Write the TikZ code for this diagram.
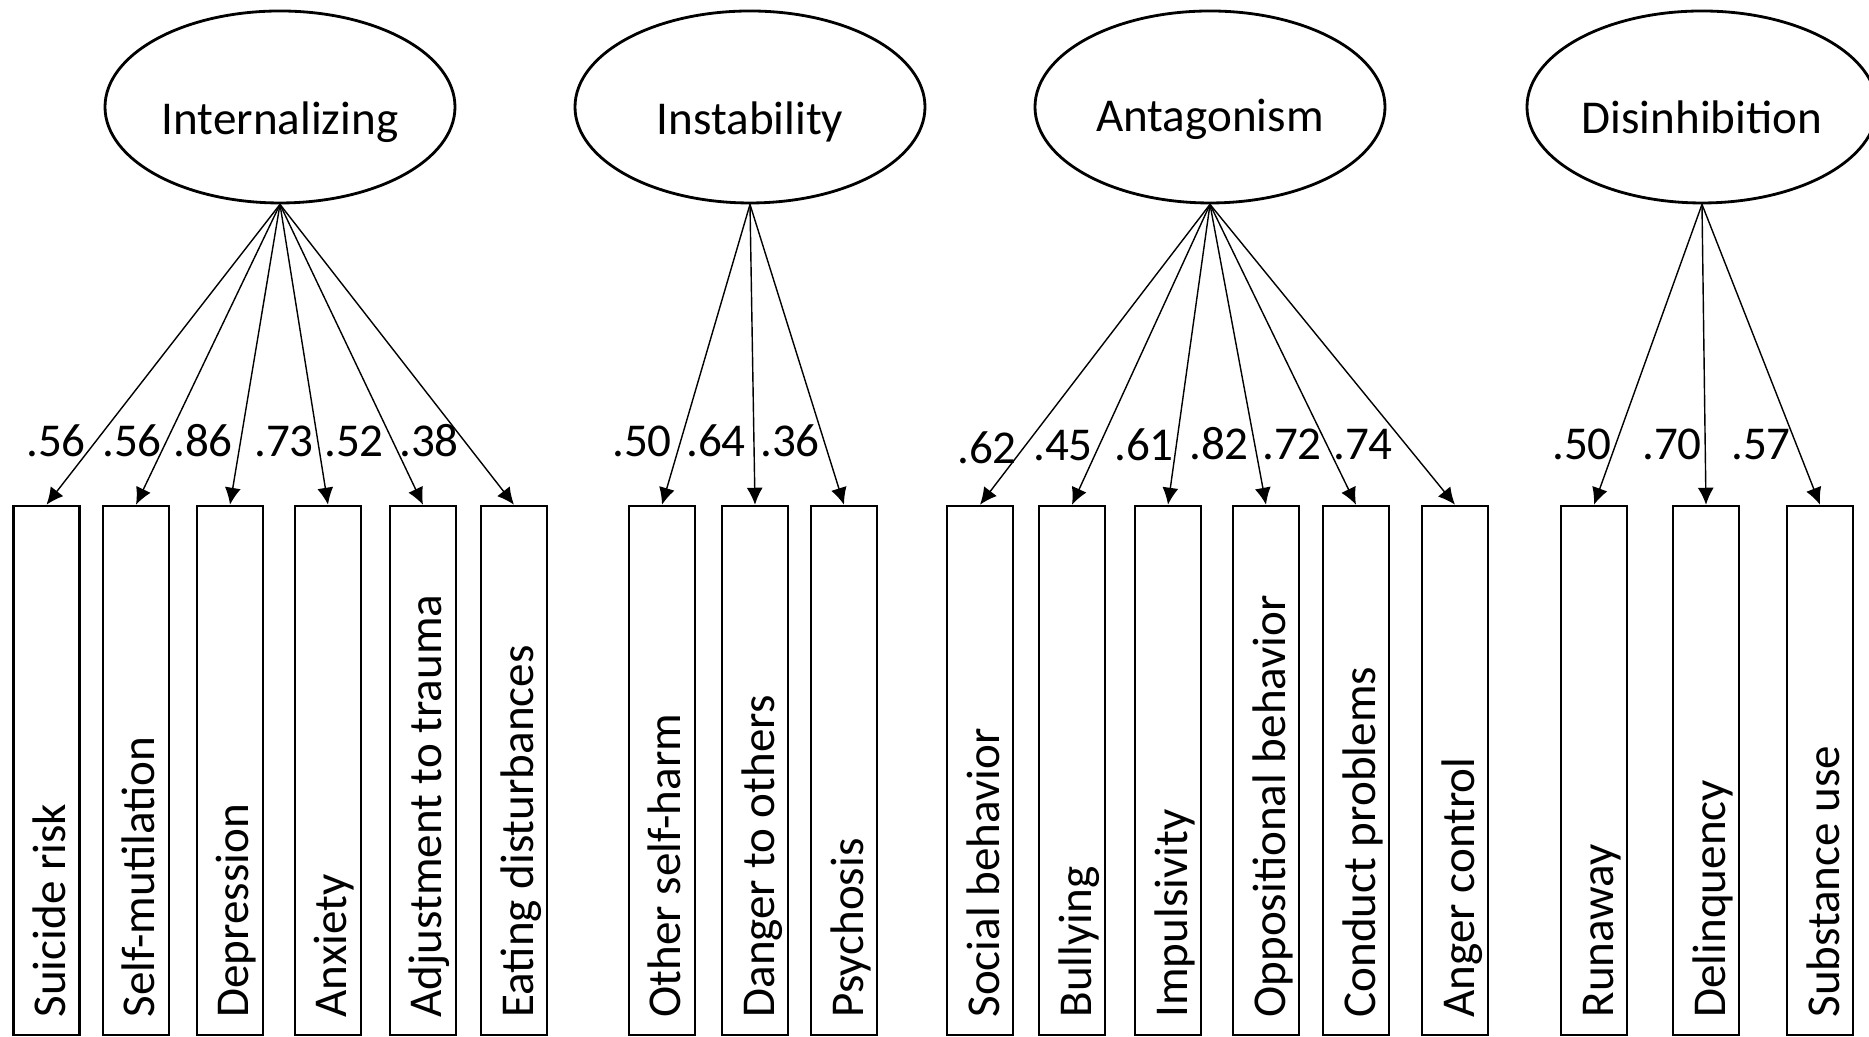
\documentclass[tikz,border=0pt]{standalone}
\usepackage{fontspec}
\setmainfont{Carlito}
\usetikzlibrary{arrows.meta,shapes.geometric}

\begin{document}
\begin{tikzpicture}
  [every node/.style={font=\fontsize{13.4}{16}\selectfont}]
  \tikzstyle{latent} = [draw,ellipse,line width=0.8pt,minimum width=3.5cm,minimum height=1.92cm,inner sep=0pt]
  \tikzstyle{item} = [draw,rectangle,line width=0.7pt,minimum width=0.66cm,minimum height=5.29cm,inner sep=0pt]
  \tikzstyle{itemtext} = [rotate=90,anchor=base west,inner sep=0pt]
  \tikzstyle{load} = [line width=0.4pt,-{Latex[length=0.17cm,width=0.16cm]}]
  \path[use as bounding box,fill=white] (0,0) rectangle (18.69,10.37);

  % factors
  \node[latent] (f1) at (2.80,9.30) {};
  \node[latent] (f2) at (7.50,9.30) {};
  \node[latent] (f3) at (12.10,9.30) {};
  \node[latent] (f4) at (17.02,9.30) {};
  \node[anchor=base] (f1t) at ([yshift=-0.28cm]f1.center) {Internalizing};
  \node[anchor=base] (f2t) at ([yshift=-0.28cm]f2.center) {Instability};
  \node[anchor=base] (f3t) at ([yshift=-0.25cm]f3.center) {Antagonism};
  \node[anchor=base] (f4t) at ([yshift=-0.27cm]f4.center) {Disinhibition};

  % indicators
  \foreach \x/\t [count=\i] in {0.465/Suicide risk, 1.36/Self-mutilation,
      2.30/Depression, 3.28/Anxiety, 4.23/Adjustment to trauma,
      5.14/Eating disturbances, 6.62/Other self-harm, 7.55/Danger to others,
      8.44/Psychosis, 9.80/Social behavior, 10.72/Bullying,
      11.68/Impulsivity, 12.66/Oppositional behavior, 13.56/Conduct problems,
      14.55/Anger control, 15.94/Runaway, 17.06/Delinquency, 18.20/Substance use}
  {
    \node[item] (b\i) at (\x,2.665) {};
    \node[itemtext] (b\i t) at ([xshift=0.19cm,yshift=0.18cm]b\i.south) {\t};
  }

  \foreach \from/\to in {f1/b1,f1/b2,f1/b3,f1/b4,f1/b5,f1/b6,
                         f2/b7,f2/b8,f2/b9,
                         f3/b10,f3/b11,f3/b12,f3/b13,f3/b14,f3/b15,
                         f4/b16,f4/b17,f4/b18}
    \draw[load] (\from.south) -- (\to.north);

  % loadings
  \foreach \x/\y/\v [count=\i] in {0.56/5.80/.56, 1.32/5.80/.56, 2.03/5.80/.86,
      2.84/5.80/.73, 3.54/5.80/.52, 4.29/5.80/.38,
      6.42/5.80/.50, 7.16/5.80/.64, 7.90/5.80/.36,
      9.87/5.73/.62, 10.63/5.76/.45, 11.44/5.76/.61, 12.19/5.77/.82,
      12.92/5.77/.72, 13.63/5.77/.74,
      15.82/5.77/.50, 16.72/5.77/.70, 17.61/5.77/.57}
    \node[anchor=base,inner sep=0pt] (w\i) at (\x,\y) {\v};

\end{tikzpicture}
\end{document}
